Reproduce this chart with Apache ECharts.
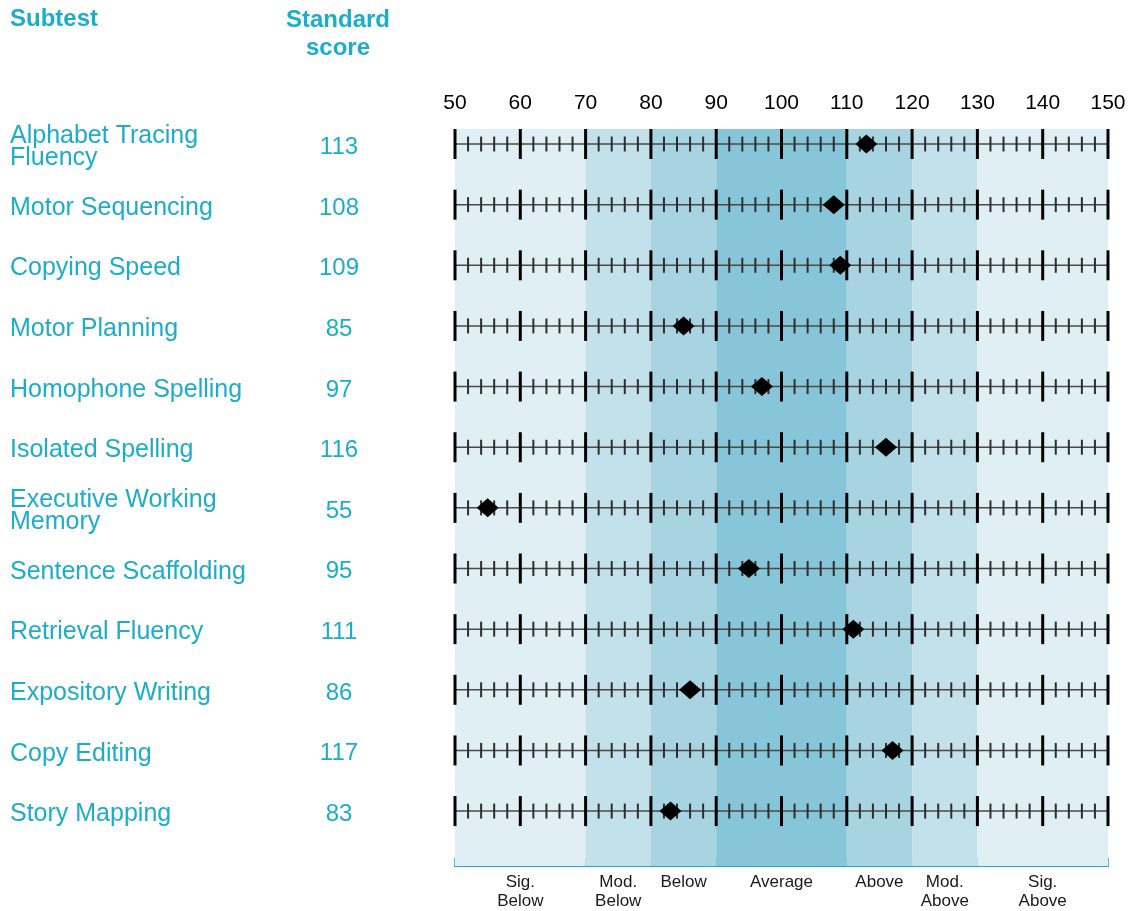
<!DOCTYPE html>
<html>
<head>
<meta charset="utf-8">
<script src="https://cdn.jsdelivr.net/npm/echarts@6/dist/echarts.min.js"></script>
<style>
html,body{margin:0;padding:0;background:#fff;}
#chart{width:1133px;height:911px;}
</style>
</head>
<body>
<div id="chart"></div>
<script>
// ---- data ----
const subtests = [
  'Alphabet Tracing\nFluency', 'Motor Sequencing', 'Copying Speed', 'Motor Planning',
  'Homophone Spelling', 'Isolated Spelling', 'Executive Working\nMemory', 'Sentence Scaffolding',
  'Retrieval Fluency', 'Expository Writing', 'Copy Editing', 'Story Mapping'
];
const scores = [113, 108, 109, 85, 97, 116, 55, 95, 111, 86, 117, 83];
const scaleTicks = [50, 60, 70, 80, 90, 100, 110, 120, 130, 140, 150];
const bandStarts = [50, 70, 80, 90, 110, 120, 130];
const bandEnds   = [70, 80, 90, 110, 120, 130, 150];
const bandNames  = ['Sig.\nBelow', 'Mod.\nBelow', 'Below', 'Average', 'Above', 'Mod.\nAbove', 'Sig.\nAbove'];
const bandColors = ['#dfeff4', '#c2e1eb', '#a8d4e2', '#87c6d9', '#a8d4e2', '#c2e1eb', '#dfeff4'];
const scaleMin = 50, scaleMax = 150, majorStep = 10, minorStep = 2;

const TEAL = '#1badc9';
const FONT = '"Liberation Sans", Arial, sans-serif';

const bandCenters = bandStarts.map((s, i) => (s + bandEnds[i]) / 2);
const bandEdges = bandStarts.concat([bandEnds[bandEnds.length - 1]]);

const chart = echarts.init(document.getElementById('chart'), null, {renderer: 'canvas'});

const option = {
  backgroundColor: '#ffffff',
  animation: false,
  textStyle: {fontFamily: FONT},
  graphic: [
    {type: 'text', left: 10, top: 7, style: {text: 'Subtest', font: 'bold 24px ' + FONT, fill: TEAL}},
    {type: 'text', x: 338, y: 6, style: {text: 'Standard\nscore', font: 'bold 24px ' + FONT, fill: TEAL, textAlign: 'center', lineHeight: 28}}
  ],
  grid: [
    {left: 455, width: 653, top: 129, height: 737},
    {left: 455, width: 653, top: 113.7, height: 727.7},
    {left: 455, width: 653, top: 117, height: 727.7}
  ],
  xAxis: [
    {
      gridIndex: 0, type: 'value', min: scaleMin, max: scaleMax, position: 'bottom',
      splitLine: {show: false},
      axisLine: {show: true, lineStyle: {color: TEAL, width: 2}},
      axisTick: {show: true, inside: true, length: 8, customValues: bandEdges, lineStyle: {color: TEAL, width: 1.5}},
      axisLabel: {
        show: true, customValues: bandCenters, margin: 7, color: '#1a1a1a', fontSize: 17, lineHeight: 19,
        verticalAlign: 'top',
        formatter: function (v) { const i = bandCenters.indexOf(v); return i >= 0 ? bandNames[i] : ''; }
      }
    },
    {
      gridIndex: 0, type: 'value', min: scaleMin, max: scaleMax, interval: majorStep, position: 'top',
      splitLine: {show: false}, axisLine: {show: false}, axisTick: {show: false},
      axisLabel: {show: true, margin: 15, color: '#000', fontSize: 21,
        formatter: function (v) { return scaleTicks.indexOf(v) >= 0 ? String(v) : ''; }}
    },
    {gridIndex: 1, type: 'value', min: scaleMin, max: scaleMax, show: false},
    {gridIndex: 2, type: 'value', min: scaleMin, max: scaleMax, show: false}
  ],
  yAxis: [
    {gridIndex: 0, type: 'value', min: 0, max: 1, show: false},
    {
      gridIndex: 1, type: 'category', inverse: true, data: subtests, show: false
    },
    {
      gridIndex: 2, type: 'category', inverse: true, data: subtests, position: 'left',
      axisLine: {show: false}, axisTick: {show: false}, splitLine: {show: false},
      axisLabel: {show: true, align: 'left', margin: 445, color: TEAL, fontSize: 25, lineHeight: 22, interval: 0}
    },
    {
      gridIndex: 2, type: 'category', inverse: true, data: scores.map(String), position: 'left',
      axisLine: {show: false}, axisTick: {show: false}, splitLine: {show: false},
      axisLabel: {show: true, align: 'center', margin: 116, color: TEAL, fontSize: 24, interval: 0}
    }
  ],
  series: [
    {
      type: 'custom', xAxisIndex: 0, yAxisIndex: 0, silent: true, z: 1,
      data: bandStarts.map((s, i) => [s, bandEnds[i], i]),
      renderItem: function (params, api) {
        const p0 = api.coord([api.value(0), 1]);
        const p1 = api.coord([api.value(1), 0]);
        return {type: 'rect', shape: {x: p0[0], y: p0[1], width: p1[0] - p0[0], height: p1[1] - p0[1]},
          style: {fill: bandColors[api.value(2)]}};
      }
    },
    {
      type: 'custom', xAxisIndex: 2, yAxisIndex: 1, silent: true, z: 2, clip: false,
      data: subtests.map((n, i) => [scaleMin, i]),
      renderItem: function (params, api) {
        const row = api.value(1);
        const a = api.coord([scaleMin, row]);
        const b = api.coord([scaleMax, row]);
        const y = a[1];
        const children = [{type: 'line', shape: {x1: a[0], y1: y, x2: b[0], y2: y}, style: {stroke: '#4a4a4a', lineWidth: 1.5}}];
        for (let v = scaleMin; v <= scaleMax; v += minorStep) {
          const x = api.coord([v, row])[0];
          const major = (v - scaleMin) % majorStep === 0;
          children.push({
            type: 'line',
            shape: {x1: x, y1: y - (major ? 15 : 7.5), x2: x, y2: y + (major ? 15 : 7.5)},
            style: {stroke: major ? '#000' : '#2e2e2e', lineWidth: major ? 3 : 2}
          });
        }
        return {type: 'group', children: children};
      }
    },
    {
      type: 'scatter', xAxisIndex: 2, yAxisIndex: 1, z: 3, silent: true,
      symbol: 'diamond', symbolSize: [22, 19],
      itemStyle: {color: '#000', opacity: 1},
      data: scores.map((s, i) => [s, i])
    }
  ]
};
chart.setOption(option);
</script>
</body>
</html>
